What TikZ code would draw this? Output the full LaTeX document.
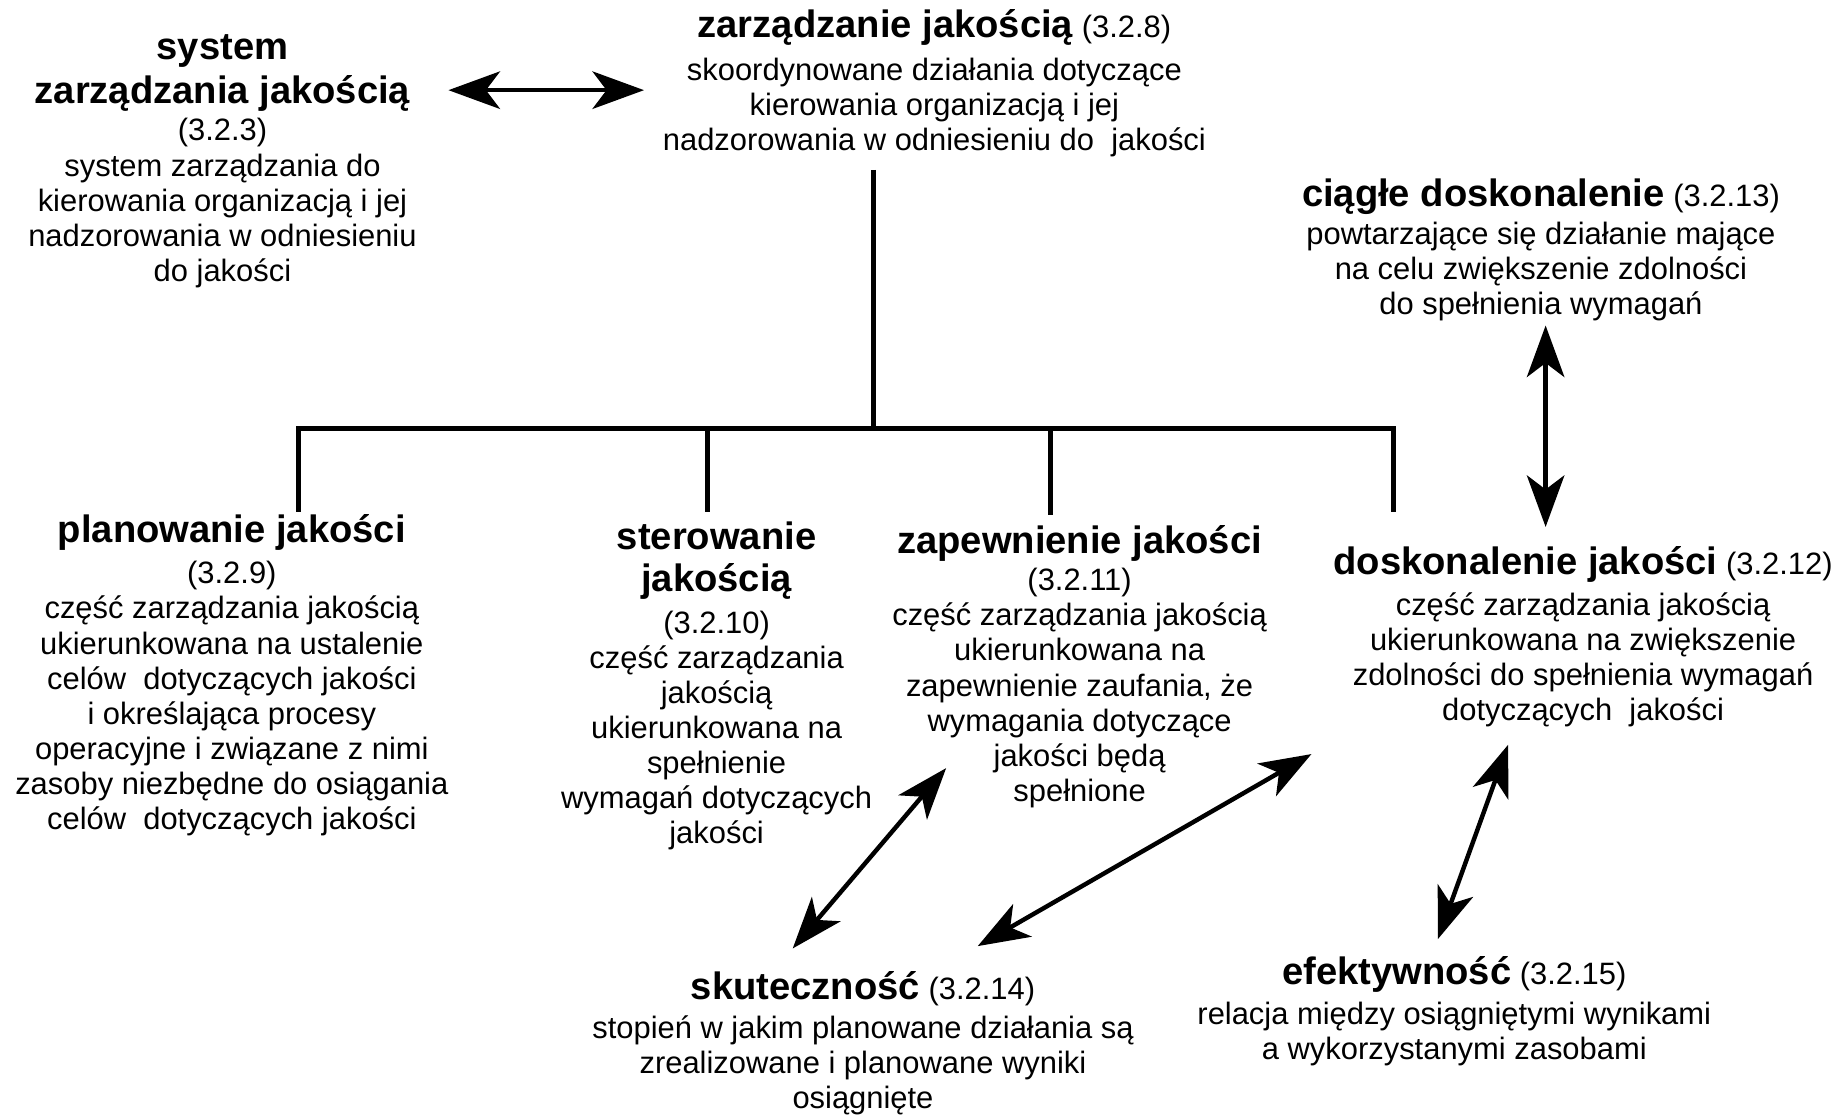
\documentclass[tikz,border=0pt]{standalone}
\usepackage{fontspec}
\setmainfont{Liberation Sans}
\usetikzlibrary{arrows.meta}
\newcommand\blockhead[1]{{\fontsize{16.3}{19}\selectfont\bfseries #1}}
\newcommand\firstline{\rule{0pt}{15pt}}
\newcommand\blockfont{\fontsize{13.2}{15}\selectfont\lineskiplimit=-50pt\relax}
\tikzset{
  block/.style={anchor=north, inner sep=0pt, align=center, font=\blockfont},
  tree/.style={line width=2pt},
  dbl/.style={line width=1.9pt,
    {Stealth[length=22pt,width=16pt,inset=6pt]}-{Stealth[length=22pt,width=16pt,inset=6pt]}}
}
\begin{document}
\begin{tikzpicture}[x=0.5pt,y=-0.5pt]
\useasboundingbox[fill=white] (0,0) rectangle (1568,954);

% blocks
\node[block] (szj) at (190,20) {\firstline\blockhead{system}\\[4pt]
  \blockhead{zarządzania jakością}\\[1pt]
  (3.2.3)\\
  system zarządzania do\\
  kierowania organizacją i jej\\
  nadzorowania w odniesieniu\\
  do jakości};

\node[block] (zj) at (798,2) {\firstline\blockhead{zarządzanie jakością} (3.2.8)\\[3pt]
  skoordynowane działania dotyczące\\
  kierowania organizacją i jej\\
  nadzorowania w odniesieniu do\ \ jakości};

\node[block] (cd) at (1316,146) {\firstline\blockhead{ciągłe doskonalenie} (3.2.13)\\[1pt]
  powtarzające się działanie mające\\
  na celu zwiększenie zdolności\\
  do spełnienia wymagań};

\node[block] (pj) at (198,433) {\firstline\blockhead{planowanie jakości}\\[2.6pt]
  (3.2.9)\\
  część zarządzania jakością\\
  ukierunkowana na ustalenie\\
  celów\ \ dotyczących jakości\\
  i określająca procesy\\
  operacyjne i związane z nimi\\
  zasoby niezbędne do osiągania\\
  celów\ \ dotyczących jakości};

\node[block] (sj) at (612,439) {\firstline\blockhead{sterowanie}\\[3pt]
  \blockhead{jakością}\\[2.6pt]
  (3.2.10)\\
  część zarządzania\\
  jakością\\
  ukierunkowana na\\
  spełnienie\\
  wymagań dotyczących\\
  jakości};

\node[block] (zpj) at (922,442) {\firstline\blockhead{zapewnienie jakości}\\[1pt]
  (3.2.11)\\
  część zarządzania jakością\\
  ukierunkowana na\\
  zapewnienie zaufania, że\\
  wymagania dotyczące\\
  jakości będą\\
  spełnione};

\node[block] (dj) at (1352,460) {\firstline\blockhead{doskonalenie jakości} (3.2.12)\\[2.6pt]
  część zarządzania jakością\\
  ukierunkowana na zwiększenie\\
  zdolności do spełnienia wymagań\\
  dotyczących\ \ jakości};

\node[block] (sk) at (737,823) {\firstline\blockhead{skuteczność} (3.2.14)\\[1.8pt]
  stopień w jakim planowane działania są\\
  zrealizowane i planowane wyniki\\
  osiągnięte};

\node[block] (ef) at (1242,810) {\firstline\blockhead{efektywność} (3.2.15)\\[2.1pt]
  relacja między osiągniętymi wynikami\\
  a wykorzystanymi zasobami};

% tree coordinates
\coordinate (stem) at (746,145);
\coordinate (hub) at (746,366);
\coordinate (hpj) at (255,366);
\coordinate (hsj) at (604,366);
\coordinate (hzpj) at (897,366);
\coordinate (hdj) at (1190,366);
\coordinate (epj) at (255,437);
\coordinate (esj) at (604,437);
\coordinate (ezpj) at (897,440);
\coordinate (edj) at (1190,437);

\draw[tree] (stem) -- (hub);
\draw[tree] ([xshift=-1pt]hpj) -- ([xshift=1pt]hdj);
\draw[tree] (hpj) -- (epj);
\draw[tree] (hsj) -- (esj);
\draw[tree] (hzpj) -- (ezpj);
\draw[tree] (hdj) -- (edj);

% arrow end points
\coordinate (a1) at (383,77);
\coordinate (a2) at (550,77);
\coordinate (c1) at (1320,278);
\coordinate (c2) at (1320,450);
\coordinate (s1) at (808,656);
\coordinate (s2) at (677,810);
\coordinate (g1) at (1120,644);
\coordinate (g2) at (835,808);
\coordinate (e1) at (1288,636);
\coordinate (e2) at (1228,802);

\draw[dbl] (a1) -- (a2);
\draw[dbl] (c1) -- (c2);
\draw[dbl] (s1) -- (s2);
\draw[dbl] (g1) -- (g2);
\draw[dbl] (e1) -- (e2);
\end{tikzpicture}
\end{document}
